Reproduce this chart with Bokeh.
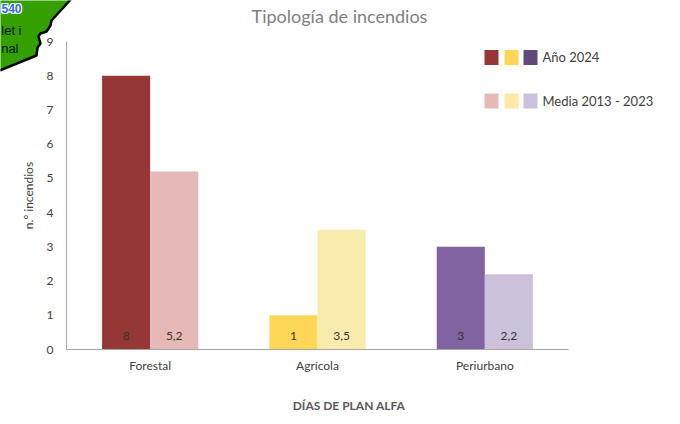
from bokeh.plotting import figure
from bokeh.models import FactorRange, Range1d, ColumnDataSource, FixedTicker
from bokeh.transform import dodge
from bokeh.core.properties import value
from bokeh.embed import file_html
from bokeh.resources import INLINE

categories = ["Forestal", "Agrícola", "Periurbano"]
valores_2024 = [8, 1, 3]
media_2013_2023 = [5.2, 3.5, 2.2]
etiquetas_2024 = ["8", "1", "3"]
etiquetas_media = ["5,2", "3,5", "2,2"]
colores_2024 = ["#953735", "#FFD757", "#8064A2"]
colores_media = ["#E6B9B8", "#F9EBAE", "#CCC1DA"]
leyenda_2024 = ["#953735", "#FFD757", "#604A7B"]
leyenda_media = ["#E6B9B8", "#FFE9A6", "#CCC1DA"]
leyenda_textos = ["Año 2024", "Media 2013 - 2023"]
y_ticks = list(range(0, 10))

FONT = "Lato"
W, H = 680, 424
L, R, T, B = 66, 568, 41, 349
ABS = {"position": "absolute", "left": "0px", "top": "0px"}

p = figure(width=W, height=H, output_backend="svg", toolbar_location=None,
           x_range=FactorRange(factors=categories, range_padding=0),
           y_range=Range1d(0, 9), margin=0, styles=ABS,
           min_border_left=L, min_border_right=W - R, min_border_top=T, min_border_bottom=H - B,
           background_fill_color="white", border_fill_color="white")
p.x_range.group_padding = 0
p.outline_line_color = None
p.grid.visible = False

for ax in (p.xaxis[0], p.yaxis[0]):
    ax.axis_line_color = "#A6A6A6"
    ax.major_tick_line_color = None
    ax.minor_tick_line_color = None
    ax.major_label_text_font = FONT
    ax.major_label_text_font_size = "12px"
    ax.major_label_text_color = "#404040"

p.yaxis[0].ticker = FixedTicker(ticks=y_ticks)
p.yaxis[0].major_label_standoff = 7
p.yaxis[0].axis_label = "n.º incendios"
p.yaxis[0].axis_label_text_font = FONT
p.yaxis[0].axis_label_text_font_size = "12px"
p.yaxis[0].axis_label_text_font_style = "normal"
p.yaxis[0].axis_label_text_color = "#404040"
p.yaxis[0].axis_label_standoff = 8
p.xaxis[0].major_label_standoff = 2

src = ColumnDataSource(dict(cat=categories, a=valores_2024, b=media_2013_2023,
                            la=etiquetas_2024, lb=etiquetas_media,
                            ca=colores_2024, cb=colores_media))
BW = 48 / 167
p.vbar(x=dodge("cat", -BW / 2, range=p.x_range), top="a", width=BW, source=src, fill_color="ca", line_color=None)
p.vbar(x=dodge("cat", BW / 2, range=p.x_range), top="b", width=BW, source=src, fill_color="cb", line_color=None)
for off, col in ((-BW / 2, "la"), (BW / 2, "lb")):
    p.text(x=dodge("cat", off, range=p.x_range), y=0, text=col, source=src, text_align="center",
           text_baseline="middle", y_offset=-14, text_font=value(FONT), text_font_size="12px", text_color="#333333")

# transparent overlay in page pixels: title, x-axis caption, legend, and the map corner
q = figure(width=W, height=H, output_backend="svg", toolbar_location=None, margin=0, styles=ABS,
           x_range=Range1d(0, W), y_range=Range1d(H, 0), x_axis_type=None, y_axis_type=None,
           min_border=0, background_fill_color=None, border_fill_color=None)
q.outline_line_color = None
q.grid.visible = False


def label(txt, x, y, size, color, font=FONT, align="left", style="normal"):
    q.text([x], [y], text=[txt], text_font=value(font), text_font_size=size, text_color=color,
           text_align=align, text_baseline="middle", text_font_style=style)


label("Tipología de incendios", 339, 15.5, "18px", "#7F7F7F", align="center")
label("DÍAS DE PLAN ALFA", 348.5, 405, "12px", "#595959", align="center", style="bold")

for x0, c1, c2 in zip([484, 504, 523], leyenda_2024, leyenda_media):
    q.quad(left=[x0], right=[x0 + 14], top=[49.5], bottom=[64.5], fill_color=c1, line_color=None)
    q.quad(left=[x0], right=[x0 + 14], top=[93], bottom=[108], fill_color=c2, line_color=None)
for txt, y in zip(leyenda_textos, [56, 100]):
    label(txt, 542, y, "13px", "#404040")

q.patch([-3, 72, 62, 51, 50, 46, 40, 38, 40, 37, 36, -3],
        [-3, -3, 8, 20, 25, 31, 33, 36, 43, 47, 55, 71],
        fill_color="#33A000", line_color="black", line_width=2.5)
for dx, dy in ((-1, 0), (1, 0), (0, -1), (0, 1), (-1, -1), (1, 1), (-1, 1), (1, -1)):
    label("540", 11 + dx, 8 + dy, "12px", "white", font="Liberation Sans", align="center", style="bold")
label("540", 11, 8, "12px", "#2F6BE0", font="Liberation Sans", align="center", style="bold")
label("let i", 21, 30, "13px", "#111111", font="Liberation Sans", align="right")
label("nal", 18, 48, "13px", "#111111", font="Liberation Sans", align="right")

open("out.html", "w").write(file_html([p, q], INLINE))
